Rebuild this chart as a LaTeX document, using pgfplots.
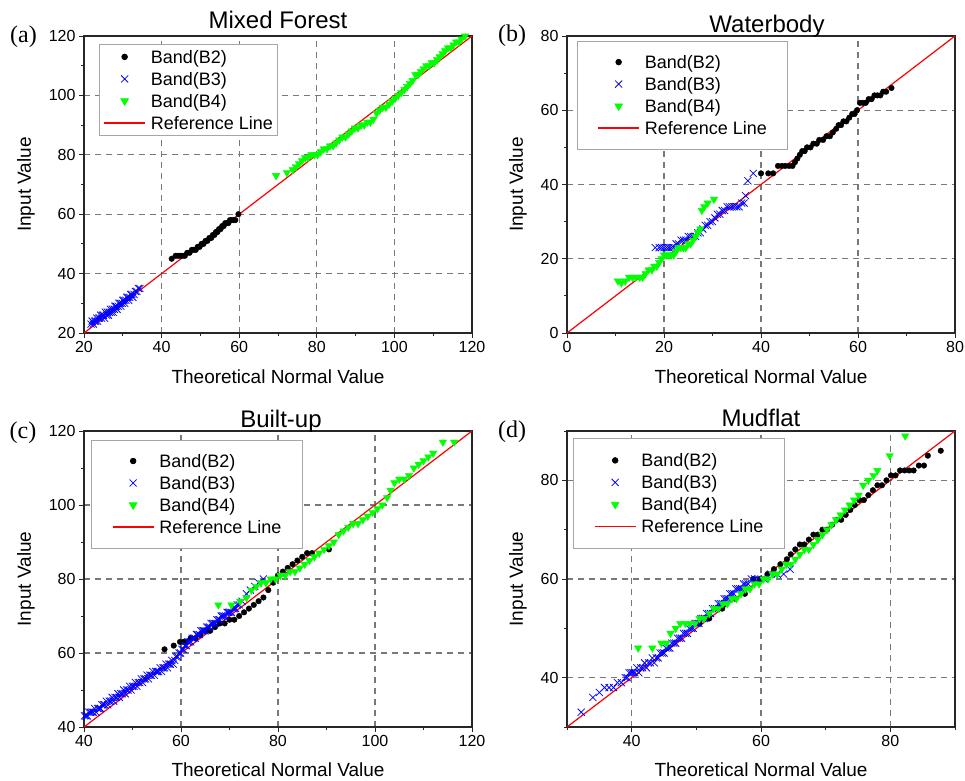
\documentclass[border=0pt]{standalone}
\usepackage{pgfplots}
\pgfplotsset{compat=1.18}
\usepackage{fontspec}
\setmainfont{Liberation Sans}
\newfontfamily\seriffont{Liberation Serif}
\definecolor{bgreen}{RGB}{0,255,0}
\definecolor{gridgray}{RGB}{120,120,120}
\definecolor{bblue}{RGB}{0,0,255}
\definecolor{refred}{RGB}{255,0,0}

\pgfplotsset{
  qq/.style={
    scale only axis, width=388pt,
    axis line style={line width=1.1pt, black!85},
    tick pos=left, tick align=outside,
    major tick length=5pt, minor tick length=3pt,
    every tick/.style={black!85, line width=0.9pt},
    minor tick num=1,
    grid=major,
    major grid style={gridgray, dash pattern=on 6pt off 5pt, line width=1.1pt},
    tick label style={font=\fontsize{16}{16}\selectfont},
    /pgf/number format/assume math mode=true,
    xlabel={Theoretical Normal Value}, ylabel={Input Value},
    title style={font=\fontsize{24}{24}\selectfont, at={(axis description cs:0.5,1)}, anchor=base},
    legend cell align=left,
    legend style={draw=gray!70, line width=0.8pt, fill=white, anchor=north west,
      font=\fontsize{18}{18}\selectfont, row sep=0pt, column sep=5pt,
      nodes={inner sep=0pt, text height=17.4pt, text depth=4.6pt}},
    legend image code/.code={\draw[mark repeat=2,mark phase=2,##1] plot coordinates {(0pt,0pt)(20.5pt,0pt)(41pt,0pt)};},
  },
  xlab/.style={every axis x label/.style={at={(axis description cs:0.5,#1)}, anchor=center, font=\fontsize{19}{19}\selectfont}},
  ylab/.style={every axis y label/.style={at={(axis description cs:#1,0.5)}, rotate=90, anchor=center, font=\fontsize{19}{19}\selectfont}},
  bandtwo/.style={only marks, mark=*, mark size=2.8pt, black},
  bandthree/.style={only marks, mark=x, mark size=5pt, bblue, mark options={line width=0.75pt}},
  bandfour/.style={only marks, mark=triangle*, mark size=4.3pt, bgreen, mark options={rotate=180, fill=bgreen, draw=bgreen}},
  refline/.style={no marks, refred, line width=1.2pt,
    legend image code/.code={\draw[refred, line width=1.5pt] (0pt,0pt) -- (41pt,0pt);}},
}

\begin{document}
\begin{tikzpicture}
\path[use as bounding box] (0pt,0pt) rectangle (965pt,780pt);

% (a) Mixed Forest
\begin{axis}[qq, height=297pt, at={(84pt,447pt)}, anchor=south west,
  xmin=20, xmax=120, ymin=20, ymax=120,
  xtick={20,40,...,120}, ytick={20,40,...,120},
  title={Mixed Forest}, title style={yshift=1pt},
  xlab=-0.148, ylab=-0.1495,
  legend style={at={(axis description cs:0,1)}, xshift=15pt, yshift=-8pt, inner xsep=4pt, inner ysep=1.5pt}]
\addplot[bandtwo] coordinates {
(42.6,45)(43.6,46)(44.2,46)(44.8,46)(45.4,46)(46,46)(46.6,47)(47.2,47)(47.8,48)(48.3,48)
(48.8,48)(49.3,49)(49.8,49)(50.3,50)(50.8,50)(51.3,51)(51.8,51)(52.3,52)(52.8,52)(53.2,53)
(53.6,53)(54,54)(54.4,54)(54.8,55)(55.2,55)(55.6,56)(56,56)(56.4,57)(56.8,57)(57.2,57)
(57.6,58)(58,58)(58.5,58)(59,58)(59.8,60)};
\addplot[bandthree] coordinates {
(21.8,23)(22.1,24)(22.4,23)(22.7,24)(23,24)(23.3,25)(23.5,24)(23.8,25)(24,25)(24.3,26)
(24.5,25)(24.8,26)(25,26)(25.3,25)(25.5,27)(25.8,26)(26,27)(26.3,26)(26.5,27)(26.8,28)
(27,27)(27.3,28)(27.5,27)(27.8,28)(28,29)(28.3,29)(28.5,28)(28.8,29)(29,30)(29.3,30)
(29.5,29)(29.8,30)(30,31)(30.3,31)(30.5,30)(30.8,31)(31,32)(31.3,32)(31.5,31)(31.8,32)
(32,33)(32.3,33)(32.6,32)(32.9,33)(33.2,34)(33.6,34)(34,35)(34.4,35)};
\addplot[bandfour] coordinates {
(69.5,73)(72.3,74)(73.8,75)(74.6,76)(75.4,77)(76.2,78)(77,79)(77.8,79)(78.6,80)(79.4,80)
(80.2,80)(81,81)(81.8,82)(82.6,82)(83.4,83)(84.2,83)(85,84)(85.8,85)(86.6,86)(87.4,86)
(88.2,87)(89,88)(89.8,89)(90.6,89)(91.4,90)(92.2,90)(93,91)(93.8,91)(94.6,92)(95.4,94)
(96.2,95)(97,96)(97.8,96)(98.6,97)(99.4,98)(100.2,99)(101,100)(101.8,101)(102.6,102)(103.3,103)
(104,104)(104.7,105)(105.4,107)(106.1,107)(106.8,108)(107.5,109)(108.2,110)(108.9,110)(109.6,111)(110.3,111)
(111,112)(111.7,113)(112.4,114)(113.1,115)(113.8,116)(114.5,116)(115.2,117)(115.9,118)(116.6,118)(117.3,119)(118.2,120)};
\addplot[refline] coordinates {(20,20)(120,120)};
\legend{Band(B2),Band(B3),Band(B4),Reference Line}
\end{axis}

% (b) Waterbody
\begin{axis}[qq, height=297pt, at={(567pt,447pt)}, anchor=south west,
  xmin=0, xmax=80, ymin=0, ymax=80,
  xtick={0,20,...,80}, ytick={0,20,...,80},
  title={Waterbody}, title style={yshift=-2.5pt, xshift=6pt},
  xlab=-0.148, ylab=-0.1263,
  legend style={at={(axis description cs:0,1)}, xshift=10pt, yshift=-4.7pt, inner xsep=20pt, inner ysep=10pt}]
\addplot[bandtwo] coordinates {
(40,43)(41.5,43)(42.5,43)(43.5,45)(44.3,45)(45,45)(45.8,45)(46.5,45)(47,46)(47.5,47)
(48,48)(48.5,49)(49,49)(49.5,50)(50.2,50)(50.8,51)(51.5,51)(52,52)(52.8,52)(53.5,53)
(54.2,53)(54.8,54)(55.5,55)(56,56)(56.5,56)(57,57)(57.6,57)(58.2,58)(58.8,59)(59.3,59)
(59.8,60)(60.4,62)(61,62)(61.6,62)(62.2,63)(62.8,63)(63.4,64)(64,64)(64.6,64)(65.2,65)
(65.8,65)(66.9,66)};
\addplot[bandthree] coordinates {
(18.2,23)(19,23)(19.5,23)(20,23)(20.5,23)(21,23)(21.5,23)(22,23)(22.5,24)(23,24)
(23.5,25)(24,25)(24.5,25)(25,26)(25.5,26)(26,26)(26.5,26)(27,27)(27.5,27)(28,28)
(28.5,29)(29,29)(29.5,30)(30,30)(30.5,31)(31,32)(31.5,32)(32,33)(32.5,33)(33,34)
(33.5,34)(34,34)(34.5,34)(35,34)(35.5,34)(36,35)(36.5,35)(36.8,37)(37.3,41)(38.4,43)};
\addplot[bandfour] coordinates {
(10.5,14)(11.2,13.5)(12,14)(12.8,15)(13.5,15)(14.2,15)(15,15)(15.6,15)(16.2,16)(16.8,17)
(17.5,17)(18,18)(18.5,18)(19,19)(19.5,20)(20,21)(20.5,21)(21,21)(21.5,21)(22,21)
(22.5,22)(23,23)(23.5,23)(24,23)(24.5,23)(25,24)(25.5,24)(26,25)(26.5,26)(27,27)
(27.5,28)(27.8,33)(28.3,34)(29,35)(30.3,36)};
\addplot[refline] coordinates {(0,0)(80,80)};
\legend{Band(B2),Band(B3),Band(B4),Reference Line}
\end{axis}

% (c) Built-up
\begin{axis}[qq, height=296pt, at={(84pt,53pt)}, anchor=south west,
  xmin=40, xmax=120, ymin=40, ymax=120,
  xtick={40,60,...,120}, ytick={40,60,...,120},
  title={Built-up}, title style={yshift=-2.3pt, xshift=3pt},
  xlab=-0.145, ylab=-0.1495,
  legend style={at={(axis description cs:0,1)}, xshift=7pt, yshift=-8.6pt, inner xsep=20.5pt, inner ysep=10pt}]
\addplot[bandtwo] coordinates {
(56.6,61)(58.5,62)(59.8,63)(60.5,63)(61.2,63)(62,64)(63,64)(64,65)(65,66)(66,66)
(67,67)(68,68)(69,68)(70,69)(71,69)(72,70)(73,71)(74,72)(75,73)(76,74)
(77,75)(78,77)(79,79)(80,81)(81,82)(82,83)(83,84)(84,85)(85,86)(86,87)(87,87)(90.5,88)};
\addplot[bandthree] coordinates {
(40.1,43)(40.4,43)(40.7,43)(41,44)(41.3,44)(41.6,44)(41.9,44)(42.2,45)(42.5,44)(42.8,45)
(43.1,45)(43.4,45)(43.7,46)(44,46)(44.3,46)(44.6,47)(44.9,46)(45.2,47)(45.5,47)(45.8,48)
(46.1,47)(46.4,48)(46.7,48)(47,49)(47.3,48)(47.6,49)(47.9,49)(48.2,50)(48.5,49)(48.8,50)
(49.1,50)(49.4,51)(49.7,50)(50,51)(50.3,51)(50.6,52)(50.9,51)(51.2,52)(51.5,52)(51.8,53)
(52.1,52)(52.4,53)(52.7,53)(53,54)(53.3,53)(53.6,54)(53.9,54)(54.2,55)(54.5,54)(54.8,55)
(55.1,55)(55.4,55)(55.7,56)(56,55)(56.3,56)(56.6,56)(56.9,57)(57.2,56)(57.5,57)(57.8,57)
(58.1,58)(58.4,57)(58.7,58)(59,59)(59.3,59)(59.6,60)(59.9,60)(60.2,61)(60.5,61)(60.8,62)
(61.1,62)(61.4,63)(61.7,63)(62,63)(62.3,64)(62.6,64)(62.9,64)(63.2,65)(63.5,65)(63.8,65)
(64.1,66)(64.4,66)(64.7,66)(65,66)(65.3,67)(65.6,67)(65.9,67)(66.2,68)(66.5,68)(66.8,68)
(67.1,68)(67.4,69)(67.7,69)(68,69)(68.3,70)(68.6,70)(68.9,70)(69.2,70)(69.5,71)(69.8,71)
(70.1,71)(70.4,71)(70.7,72)(71,72)(71.3,72)(71.6,73)(72,73)(72.6,74)(73.5,76)(74.3,77)
(75.2,78)(76,79)(77,80)};
\addplot[bandfour] coordinates {
(67.7,73)(70.4,73)(72.2,74)(73.5,75)(74.5,77)(75.5,78)(76.5,79)(77.5,79)(78.5,80)(79.5,80)
(80.5,81)(81.5,81)(82.5,82)(83.5,82)(84.5,83)(85.5,84)(86.5,85)(87.5,86)(88.5,87)(89.5,88)
(90.5,89)(91.5,90)(92.5,92)(93.5,93)(94.5,94)(95.5,95)(96.5,95)(97.5,96)(98.5,97)(99.5,98)
(100.5,99)(101.5,100)(102.5,102)(103.2,104)(104,106)(105,107)(106,107)(107,108)(108,110)(109,111)
(110,112)(111,113)(112,114)(114,117)(116.3,117)};
\addplot[refline] coordinates {(40,40)(120,120)};
\legend{Band(B2),Band(B3),Band(B4),Reference Line}
\end{axis}

% (d) Mudflat
\begin{axis}[qq, height=296pt, at={(567pt,53pt)}, anchor=south west,
  xmin=30, xmax=90, ymin=30, ymax=90,
  xtick={40,60,80}, ytick={40,60,80},
  minor xtick={30,50,70,90}, minor ytick={30,50,70,90},
  title={Mudflat}, title style={yshift=-1pt},
  xlab=-0.145, ylab=-0.1263,
  legend style={at={(axis description cs:0,1)}, xshift=6pt, yshift=-7pt, inner xsep=20.5pt, inner ysep=11pt}]
\addplot[bandtwo] coordinates {
(50.5,51)(52,52)(54,54)(56,56)(57.5,57)(58.8,60)(59.8,60)(61,61)(62,62)(63,63)
(64,64)(64.6,65)(65.3,66)(66,67)(66.7,67)(67.4,68)(68.1,69)(68.8,69)(69.5,70)(70.2,70)
(71,71)(71.7,72)(72.4,72)(73.1,73)(73.8,74)(74.5,75)(75.2,76)(75.9,76)(76.6,77)(77.3,78)
(78,79)(78.7,79)(79.4,80)(80.1,81)(80.8,81)(81.5,82)(82.2,82)(82.9,82)(83.6,82)(84.4,83)
(85.2,83)(85.8,85)(87.8,86)};
\addplot[bandthree] coordinates {
(32.2,33)(34,36)(35,37)(35.8,38)(36.5,38)(37.2,38)(37.8,39)(38.4,39)(39,40)(39.3,40)
(39.6,41)(39.9,41)(40.2,41)(40.5,41)(40.8,42)(41.1,41)(41.4,42)(41.7,42)(42,43)(42.3,42)
(42.6,43)(42.9,43)(43.2,44)(43.5,43)(43.8,44)(44.1,44)(44.4,45)(44.7,45)(45,45)(45.3,46)
(45.6,46)(45.9,46)(46.2,47)(46.5,47)(46.8,47)(47.1,48)(47.4,48)(47.7,48)(48,49)(48.3,49)
(48.6,49)(48.9,50)(49.2,50)(49.5,50)(49.8,51)(50.1,51)(50.4,51)(50.7,52)(51,52)(51.3,52)
(51.6,53)(51.9,53)(52.2,53)(52.5,54)(52.8,54)(53.1,54)(53.4,55)(53.7,55)(54,55)(54.3,56)
(54.6,56)(54.9,56)(55.2,57)(55.5,57)(55.8,57)(56.1,58)(56.4,58)(56.7,58)(57,58)(57.3,59)
(57.6,59)(58,59)(58.5,60)(59,60)(59.6,60)(60.5,60)(61.5,61)(62.5,61)(63.5,61)(64.5,62)};
\addplot[bandfour] coordinates {
(41,46)(43.2,46)(44.6,47)(45.4,47)(46,49)(46.8,50)(47.5,51)(48.3,51)(49,51)(49.8,51)
(50.5,52)(51.2,52)(52,53)(52.7,54)(53.4,54)(54.1,55)(54.8,55)(55.5,56)(56.2,56)(56.9,57)
(57.6,58)(58.3,58)(59,59)(59.7,59)(60.4,60)(61.1,60)(61.8,61)(62.5,61)(63.2,62)(63.9,63)
(64.6,63)(65.3,64)(66,65)(66.7,66)(67.4,66)(68.1,67)(68.8,68)(69.5,69)(70.2,70)(70.9,71)
(71.6,72)(72.3,73)(73,74)(73.7,75)(74.4,76)(75.1,77)(75.8,79)(76.6,80)(77.4,81)(78,82)
(79.9,85)(82.3,89)};
\addplot[refline] coordinates {(30,30)(90,90)};
\legend{Band(B2),Band(B3),Band(B4),Reference Line}
\end{axis}

\node[font=\seriffont\fontsize{24}{24}\selectfont] at (23.5pt,743pt) {(a)};
\node[font=\seriffont\fontsize{24}{24}\selectfont] at (512pt,744pt) {(b)};
\node[font=\seriffont\fontsize{24}{24}\selectfont] at (23pt,347pt) {(c)};
\node[font=\seriffont\fontsize{24}{24}\selectfont] at (512pt,348pt) {(d)};
\end{tikzpicture}
\end{document}
